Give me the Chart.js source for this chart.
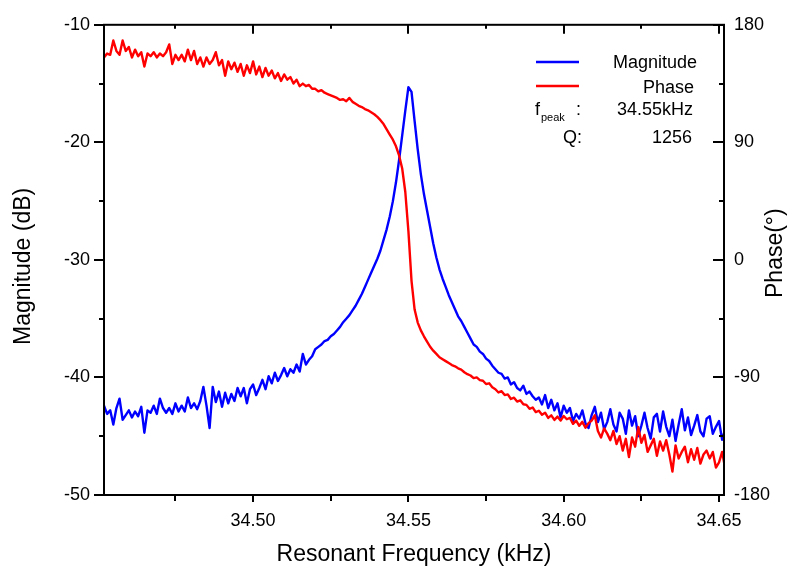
<!DOCTYPE html>
<html>
<head>
<meta charset="utf-8">
<title>Resonance sweep</title>
<script src="https://cdn.jsdelivr.net/npm/chart.js@4.4.1/dist/chart.umd.min.js"></script>
<style>
  html, body { margin: 0; padding: 0; background: #fff; }
  #wrap { width: 788px; height: 571px; }
</style>
</head>
<body>
<div id="wrap"><canvas id="sweep-chart"></canvas></div>
<script>
(function () {
  'use strict';

  // sweep: 34.452 kHz upward in 1 Hz steps, one sample per step
  var FREQ_START = 34.452;
  var FREQ_STEP  = 0.001;

  // Magnitude (dB)
  var MAGNITUDE = [
    -42.4, -43.1, -42.8, -44.0, -42.6, -41.8, -43.6, -43.2, -42.8, -43.4,
    -42.9, -43.3, -42.5, -44.7, -42.8, -43.0, -42.4, -43.1, -41.8, -42.6,
    -43.0, -42.6, -43.1, -42.2, -42.9, -42.4, -42.9, -41.7, -42.6, -42.2,
    -42.7, -42.0, -40.8, -42.4, -44.3, -40.8, -42.1, -41.2, -42.5, -41.3,
    -42.2, -41.4, -42.0, -40.9, -41.6, -40.9, -42.2, -41.0, -40.6, -41.5,
    -40.9, -40.2, -41.0, -39.9, -40.5, -39.6, -40.3, -39.8, -39.2, -39.9,
    -39.3, -39.6, -38.9, -39.5, -38.0, -38.9, -38.5, -38.2, -37.6, -37.4,
    -37.2, -36.9, -36.8, -36.5, -36.3, -36.0, -35.7, -35.3, -35.0, -34.7,
    -34.3, -33.9, -33.4, -32.9, -32.3, -31.7, -31.1, -30.5, -29.9, -29.2,
    -28.3, -27.4, -26.3, -25.0, -23.4, -21.5, -19.4, -17.3, -15.3, -15.7,
    -18.2, -20.6, -22.7, -24.4, -25.8, -27.2, -28.6, -29.8, -30.8, -31.6,
    -32.3, -33.0, -33.6, -34.2, -34.8, -35.2, -35.7, -36.2, -36.7, -37.2,
    -37.4, -37.8, -38.0, -38.4, -38.6, -39.0, -39.3, -39.6, -39.7, -40.1,
    -40.0, -40.6, -40.4, -40.9, -41.1, -40.7, -41.4, -41.2, -41.6, -41.9,
    -41.7, -42.3, -41.5, -42.6, -41.9, -42.8, -42.2, -43.4, -42.4, -43.0,
    -42.6, -43.7, -43.1, -43.5, -42.8, -43.9, -44.3, -43.2, -42.5, -43.8,
    -43.0, -44.4, -43.8, -42.7, -44.0, -44.6, -43.0, -43.5, -44.8, -42.8,
    -44.1, -43.3, -45.0, -44.1, -43.0, -44.3, -45.2, -43.4, -43.1, -44.6,
    -42.9, -44.2, -45.0, -43.6, -45.4, -44.0, -42.7, -44.5, -43.4, -44.9,
    -44.1, -43.2, -44.6, -45.0, -43.5, -43.3, -44.8, -44.2, -43.7, -45.3,
    -44.4
  ];

  // Phase (degrees), same samples
  var PHASE = [
    155, 158, 157, 168, 160, 157, 168, 160, 163, 155,
    161, 156, 159, 148, 158, 156, 159, 155, 158, 156,
    159, 165, 150, 157, 153, 157, 152, 161, 153, 160,
    150, 155, 148, 155, 150, 153, 159, 149, 153, 141,
    152, 146, 151, 144, 150, 141, 149, 143, 152, 142,
    148, 140, 147, 141, 145, 139, 143, 137, 142, 138,
    140, 135, 138, 133, 135, 133, 134, 131, 131, 129,
    130, 128, 127, 126, 125, 124, 122.5, 123, 121.5, 124,
    121, 119.5, 118, 117, 115.5, 114.5, 113, 111.5, 109.5, 107,
    104, 100, 96, 92, 87, 80, 70, 52, 22, -16,
    -38, -48, -54, -58.5, -62.5, -66.5, -69.5, -72, -74.5, -76,
    -77.5, -79, -80.5, -81.5, -83, -84, -86, -87.5, -88.5, -90.5,
    -90, -92, -92.5, -95, -94.5, -97.5, -99, -101.5, -100.5, -103.5,
    -103, -106.5, -105.5, -108.5, -107.5, -110.5, -111, -114, -113, -116.5,
    -115.5, -118.5, -117, -121, -119, -122.5, -120, -123, -119.5, -122,
    -121, -125.5, -123, -127, -124, -128.5, -125, -123, -119, -131,
    -136, -129, -133, -138, -131, -141, -135, -146, -137, -151,
    -136, -143, -128, -140, -134, -147, -142, -137, -150, -139,
    -146, -138, -149, -162, -142, -152, -147, -143, -155, -145,
    -153, -144, -156, -149, -146, -152, -147, -159, -155, -147,
    -160
  ];

  var X_TICKS      = [34.475, 34.50, 34.525, 34.55, 34.575, 34.60, 34.625, 34.65];
  var X_LABELS     = ['', '34.50', '', '34.55', '', '34.60', '', '34.65'];
  var MAG_TICKS    = [-10, -15, -20, -25, -30, -35, -40, -45, -50];
  var MAG_LABELS   = ['-10', '', '-20', '', '-30', '', '-40', '', '-50'];
  var PHASE_TICKS  = [180, 135, 90, 45, 0, -45, -90, -135, -180];
  var PHASE_LABELS = ['180', '', '90', '', '0', '', '-90', '', '-180'];

  var PEAK_FREQ = '34.55kHz';
  var Q_FACTOR  = '1256';

  var FONT = '"Liberation Sans", Arial, Helvetica, sans-serif';
  var MAG_COLOR = '#0000ff';
  var PHASE_COLOR = '#ff0000';
  var TRACE_WIDTH = 2.4;

  function getEl(id) { return document.getElementById(id); }

  function toPoints(vals) {
    return vals.map(function (v, i) {
      return { x: FREQ_START + i * FREQ_STEP, y: v };
    });
  }

  function setTicks(list) {
    return function (scale) {
      scale.ticks = list.map(function (v) { return { value: v }; });
    };
  }

  function tickFont() { return { family: FONT, size: 18 }; }

  // frame, tick marks, legend box and axis titles
  var decorations = {
    id: 'decorations',
    afterDraw: function (chart) {
      var ctx = chart.ctx;
      var a = chart.chartArea;
      var xs = chart.scales.x, ms = chart.scales.y, ps = chart.scales.phase;

      ctx.save();
      ctx.strokeStyle = '#000';
      ctx.lineWidth = 2;
      ctx.strokeRect(a.left, a.top, a.right - a.left, a.bottom - a.top);

      ctx.beginPath();
      X_TICKS.forEach(function (v, i) {
        var px = Math.round(xs.getPixelForValue(v));
        var major = X_LABELS[i] !== '';
        ctx.moveTo(px, a.bottom); ctx.lineTo(px, a.bottom + (major ? 7 : 6));
        ctx.moveTo(px, a.top);    ctx.lineTo(px, a.top + (major ? 9 : 4));
      });
      MAG_TICKS.forEach(function (v, i) {
        var py = Math.round(ms.getPixelForValue(v));
        var major = MAG_LABELS[i] !== '';
        ctx.moveTo(a.left, py); ctx.lineTo(a.left - (major ? 10 : 5), py);
      });
      PHASE_TICKS.forEach(function (v, i) {
        var py = Math.round(ps.getPixelForValue(v));
        var major = PHASE_LABELS[i] !== '';
        ctx.moveTo(a.right, py); ctx.lineTo(a.right - (major ? 11 : 5), py);
      });
      ctx.stroke();

      // legend
      ctx.lineWidth = TRACE_WIDTH;
      ctx.strokeStyle = MAG_COLOR;
      ctx.beginPath(); ctx.moveTo(536, 62); ctx.lineTo(579, 62); ctx.stroke();
      ctx.strokeStyle = PHASE_COLOR;
      ctx.beginPath(); ctx.moveTo(536, 86); ctx.lineTo(579, 86); ctx.stroke();

      ctx.fillStyle = '#000';
      ctx.textBaseline = 'alphabetic';
      ctx.font = '18px ' + FONT;
      ctx.textAlign = 'right';
      ctx.fillText('Magnitude', 697, 68);
      ctx.fillText('Phase', 694, 93);
      ctx.fillText(PEAK_FREQ, 693, 115);
      ctx.fillText('Q:', 582, 143);
      ctx.fillText(Q_FACTOR, 692, 143);
      ctx.textAlign = 'left';
      ctx.fillText('f', 535, 115);
      ctx.fillText(':', 576, 115);
      ctx.font = '11px ' + FONT;
      ctx.fillText('peak', 541, 121);

      // axis titles
      ctx.font = '23px ' + FONT;
      ctx.textAlign = 'center';
      ctx.fillText('Resonant Frequency (kHz)', (a.left + a.right) / 2, 561);

      ctx.textAlign = 'left';
      ctx.save();
      ctx.translate(30, 345);
      ctx.rotate(-Math.PI / 2);
      ctx.fillText('Magnitude (dB)', 0, 0);
      ctx.restore();

      ctx.save();
      ctx.translate(782, 298);
      ctx.rotate(-Math.PI / 2);
      ctx.fillText('Phase(\u00b0)', 0, 0);
      ctx.restore();

      ctx.restore();
    }
  };

  var noGrid = { display: false, drawTicks: false };

  var canvas = getEl('sweep-chart');

  new Chart(canvas, {
    type: 'line',
    data: {
      datasets: [
        {
          label: 'Magnitude',
          data: toPoints(MAGNITUDE),
          yAxisID: 'y',
          borderColor: MAG_COLOR,
          borderWidth: TRACE_WIDTH,
          borderJoinStyle: 'round',
          pointRadius: 0,
          tension: 0,
          fill: false,
          order: 2
        },
        {
          label: 'Phase',
          data: toPoints(PHASE),
          yAxisID: 'phase',
          borderColor: PHASE_COLOR,
          borderWidth: TRACE_WIDTH,
          borderJoinStyle: 'round',
          pointRadius: 0,
          tension: 0,
          fill: false,
          order: 1
        }
      ]
    },
    options: {
      responsive: true,
      maintainAspectRatio: false,
      animation: false,
      events: [],
      layout: { padding: { top: 23, left: 0, right: 0, bottom: 0 } },
      plugins: {
        legend: { display: false },
        tooltip: { enabled: false }
      },
      scales: {
        x: {
          type: 'linear',
          min: 34.452,
          max: 34.6516,
          grid: noGrid,
          border: { display: false },
          afterBuildTicks: setTicks(X_TICKS),
          afterFit: function (s) { s.height = 76; },
          ticks: {
            autoSkip: false,
            maxRotation: 0,
            includeBounds: false,
            padding: 15,
            color: '#000',
            font: tickFont(),
            callback: function (v, i) { return X_LABELS[i]; }
          }
        },
        y: {
          type: 'linear',
          position: 'left',
          min: -50,
          max: -10,
          grid: noGrid,
          border: { display: false },
          afterBuildTicks: setTicks(MAG_TICKS),
          afterFit: function (s) { s.width = 104; },
          ticks: {
            autoSkip: false,
            includeBounds: false,
            padding: 14,
            color: '#000',
            font: tickFont(),
            callback: function (v, i) { return MAG_LABELS[i]; }
          }
        },
        phase: {
          type: 'linear',
          position: 'right',
          min: -180,
          max: 180,
          grid: noGrid,
          border: { display: false },
          afterBuildTicks: setTicks(PHASE_TICKS),
          afterFit: function (s) { s.width = 64; },
          ticks: {
            autoSkip: false,
            includeBounds: false,
            padding: 10,
            color: '#000',
            font: tickFont(),
            callback: function (v, i) { return PHASE_LABELS[i]; }
          }
        }
      }
    },
    plugins: [decorations]
  });
})();
</script>
</body>
</html>
